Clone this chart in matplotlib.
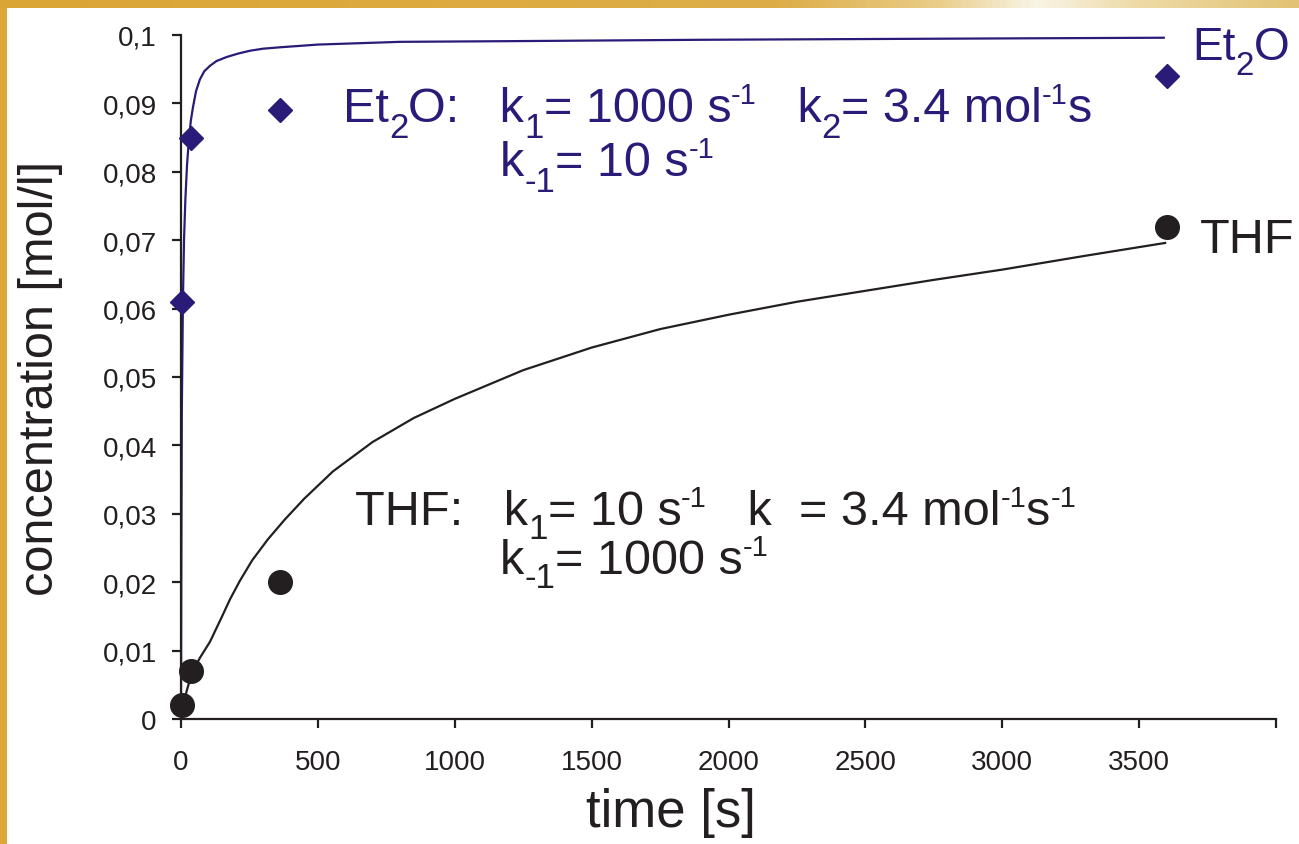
import matplotlib
matplotlib.use('Agg')
import matplotlib.pyplot as plt
import numpy as np
from matplotlib import font_manager
from matplotlib.colors import LinearSegmentedColormap

# measured points
meas_time = [5, 35, 360, 3600]
et2o_conc = [0.061, 0.085, 0.089, 0.094]
thf_conc = [0.002, 0.007, 0.020, 0.072]

# fitted model curves
et2o_fit_t = [0, 1, 3, 7, 11, 16, 22, 29, 36, 44, 55, 69, 85, 106, 130, 168, 210, 252, 300,
              361, 500, 800, 1200, 1900, 3000, 3590]
et2o_fit_c = [0.0, 0.02, 0.045, 0.061, 0.070, 0.076, 0.081, 0.0848, 0.0875, 0.0895, 0.0918,
              0.0935, 0.0947, 0.0955, 0.0962, 0.0968, 0.0973, 0.0977, 0.0980, 0.0982, 0.0986,
              0.0990, 0.0991, 0.0993, 0.0995, 0.0996]
thf_fit_t = [0, 20, 40, 70, 106, 150, 179, 215, 260, 318, 380, 450, 555, 700, 850, 1000, 1250,
             1500, 1750, 2000, 2250, 2500, 2750, 3000, 3300, 3595]
thf_fit_c = [0.0, 0.004, 0.0068, 0.0090, 0.0113, 0.0150, 0.0175, 0.0202, 0.0232, 0.0263, 0.0292,
             0.0322, 0.0362, 0.0405, 0.0440, 0.0468, 0.0510, 0.0543, 0.0570, 0.0591, 0.0610,
             0.0626, 0.0642, 0.0657, 0.0677, 0.0696]

x_ticks = [0, 500, 1000, 1500, 2000, 2500, 3000, 3500, 4000]
x_tick_labels = ['0', '500', '1000', '1500', '2000', '2500', '3000', '3500', '']
y_ticks = [0, 0.01, 0.02, 0.03, 0.04, 0.05, 0.06, 0.07, 0.08, 0.09, 0.1]
y_tick_labels = ['0', '0,01', '0,02', '0,03', '0,04', '0,05', '0,06', '0,07', '0,08', '0,09', '0,1']

et2o_note1 = [("Et", "n"), ("2", "sub"), ("O:   k", "n"), ("1", "sub"), ("= 1000 s", "n"),
              ("-1", "sup"), ("   k", "n"), ("2", "sub"), ("= 3.4 mol", "n"), ("-1", "sup"), ("s", "n")]
et2o_note2 = [("k", "n"), ("-1", "sub"), ("= 10 s", "n"), ("-1", "sup")]
thf_note1 = [("THF:   k", "n"), ("1", "sub"), ("= 10 s", "n"), ("-1", "sup"), ("   k", "n"),
             ("  = 3.4 mol", "n"), ("-1", "sup"), ("s", "n"), ("-1", "sup")]
thf_note2 = [("k", "n"), ("-1", "sub"), ("= 1000 s", "n"), ("-1", "sup")]

navy = '#2a1b78'
black = '#231f20'

names = {f.name for f in font_manager.fontManager.ttflist}
base = 'Liberation Sans'
narrow = 'Liberation Sans Narrow' if 'Liberation Sans Narrow' in names else base
plt.rcParams['font.family'] = base

W, H, DPI = 1299, 845, 100
fig = plt.figure(figsize=(W / DPI, H / DPI), dpi=DPI)
fig.patch.set_facecolor('white')

# gold frame at top and left
gold = LinearSegmentedColormap.from_list('gold', [(0, '#dba535'), (0.6, '#ddae48'), (0.72, '#e9cc86'),
                                                  (0.80, '#f8f4e6'), (0.88, '#eedaa6'), (1, '#e2c375')])
top = fig.add_axes([0, 1 - 9 / H, 1, 9 / H])
top.imshow(np.linspace(0, 1, 300)[None, :], cmap=gold, aspect='auto')
top.axis('off')
left = fig.add_axes([0, 0, 7 / W, 1 - 9 / H])
left.set_facecolor('#dea637')
left.set_xticks([])
left.set_yticks([])
for s in left.spines.values():
    s.set_visible(False)

ax = fig.add_axes([181 / W, 1 - 720 / H, 1095 / W, 684 / H])
ax.plot(et2o_fit_t, et2o_fit_c, color=navy, lw=1.6, zorder=2)
ax.plot(thf_fit_t, thf_fit_c, color=black, lw=1.6, zorder=2)
ax.plot(meas_time, et2o_conc, 'D', color=navy, ms=12.5, zorder=3, clip_on=False)
ax.plot(meas_time, thf_conc, 'o', color=black, ms=17, zorder=3, clip_on=False)

ax.set_xlim(0, 4000)
ax.set_ylim(0, 0.1)
ax.set_xticks(x_ticks)
ax.set_xticklabels(x_tick_labels)
ax.set_yticks(y_ticks)
ax.set_yticklabels(y_tick_labels)
for s in ['top', 'right']:
    ax.spines[s].set_visible(False)
for s in ['left', 'bottom']:
    ax.spines[s].set_linewidth(1.6)
    ax.spines[s].set_color(black)
ax.tick_params(axis='both', direction='out', length=6.5, width=1.6, colors=black, labelsize=20)
ax.tick_params(axis='y', pad=11)
ax.tick_params(axis='x', pad=15)

ax.set_xlabel('time [s]', fontsize=38, color=black)
ax.xaxis.label.set_va('top')
ax.xaxis.set_label_coords(0.4475, -0.100)
ax.set_ylabel('concentration [mol/l]', fontsize=35, color=black)
ax.yaxis.set_label_coords(-0.108, 0.5)

renderer = fig.canvas.get_renderer()


def rich(x, y, parts, size, color, family, sub_dy=0.33):
    # x, y: image pixels of the baseline start (y measured from the top)
    texts = []
    px = x
    fpx = size * DPI / 72
    for s, kind in parts:
        fs, dy = size, 0
        if kind == 'sub':
            fs, dy = size * 0.72, -sub_dy * fpx
        elif kind == 'sup':
            fs, dy = size * 0.6, 0.38 * fpx
        t = fig.text(px / W, (H - y + dy) / H, s, fontsize=fs, color=color,
                     family=family, ha='left', va='baseline')
        texts.append(t)
        px = t.get_window_extent(renderer).x1
    return texts, px


def fitted(x, y, parts, x_end, color, sub_dy=0.33):
    texts, end = rich(x, y, parts, 30, color, narrow)
    for t in texts:
        t.remove()
    size = 30 * (x_end - x) / (end - x)
    rich(x, y, parts, size, color, narrow, sub_dy)
    return size


sz = fitted(343, 122, et2o_note1, 1090, navy)
rich(500, 176, et2o_note2, sz, navy, narrow)
sz = fitted(355, 525, thf_note1, 1075, black, sub_dy=0.28)
rich(500, 574, thf_note2, sz, black, narrow, sub_dy=0.28)

rich(1192, 60, [("Et", "n"), ("2", "sub"), ("O", "n")], 33, navy, base)
rich(1200, 253, [("THF", "n")], 35, black, base)

fig.savefig('out.png', dpi=DPI)
